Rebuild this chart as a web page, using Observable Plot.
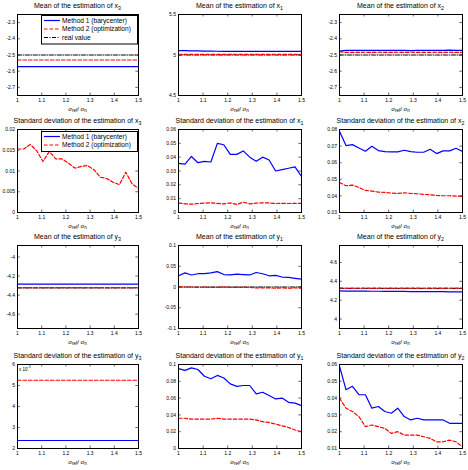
<!DOCTYPE html>
<html><head><meta charset="utf-8">
<script src="https://cdn.jsdelivr.net/npm/d3@7"></script>
<script src="https://cdn.jsdelivr.net/npm/@observablehq/plot@0.6"></script>
<style>
body{margin:0;background:#fff;}
#root{position:relative;width:468px;height:470px;overflow:hidden;font-family:"Liberation Sans",Arial,sans-serif;color:#000;}
.panel{position:absolute;}
.ttl{position:absolute;font-size:7px;white-space:nowrap;transform:translateX(-50%);line-height:1;}
.xl{position:absolute;font-size:6px;white-space:nowrap;transform:translateX(-50%);line-height:1;}
sub{font-size:0.75em;vertical-align:-0.3em;line-height:0;}
sup{font-size:0.75em;line-height:0;}
</style>
</head><body><div id="root"></div>
<script>
const xs = [1, 1.0263, 1.0526, 1.0789, 1.1053, 1.1316, 1.1579, 1.1842, 1.2105, 1.2368, 1.2632, 1.2895, 1.3158, 1.3421, 1.3684, 1.3947, 1.4211, 1.4474, 1.4737, 1.5];
const xTicks = [1, 1.1, 1.2, 1.3, 1.4, 1.5];
const seriesNames = ["Method 1 (barycenter)", "Method 2 (optimization)", "real value"];
const panelTitles = ["Mean of the estimation of ", "Standard deviation of the estimation of "];
const varNames = ["x3", "x1", "x2", "y3", "y1", "y2"];

// Mean x3
const meanX3_m1 = [-2.572,-2.572,-2.572,-2.572,-2.572,-2.572,-2.572,-2.572,-2.572,-2.572,-2.572,-2.572,-2.572,-2.572,-2.572,-2.572,-2.572,-2.572,-2.572,-2.572];
const meanX3_m2 = [-2.531,-2.531,-2.531,-2.531,-2.531,-2.531,-2.531,-2.531,-2.531,-2.531,-2.531,-2.531,-2.531,-2.531,-2.531,-2.531,-2.531,-2.531,-2.531,-2.531];
const meanX3_real = [-2.5,-2.5,-2.5,-2.5,-2.5,-2.5,-2.5,-2.5,-2.5,-2.5,-2.5,-2.5,-2.5,-2.5,-2.5,-2.5,-2.5,-2.5,-2.5,-2.5];
// Mean x1
const meanX1_m1 = [5.055,5.054,5.052,5.050,5.049,5.047,5.046,5.045,5.045,5.044,5.044,5.044,5.044,5.044,5.044,5.044,5.044,5.044,5.044,5.044];
const meanX1_m2 = [5.009,5.008,5.008,5.009,5.008,5.008,5.009,5.008,5.008,5.009,5.008,5.008,5.009,5.008,5.008,5.009,5.008,5.008,5.009,5.008];
const meanX1_real = [5,5,5,5,5,5,5,5,5,5,5,5,5,5,5,5,5,5,5,5];
// Mean x2
const meanX2_m1 = [-2.476,-2.471,-2.471,-2.472,-2.472,-2.471,-2.472,-2.472,-2.472,-2.471,-2.472,-2.473,-2.472,-2.472,-2.472,-2.471,-2.472,-2.470,-2.472,-2.471];
const meanX2_m2 = [-2.479,-2.484,-2.483,-2.484,-2.483,-2.484,-2.483,-2.484,-2.484,-2.483,-2.484,-2.483,-2.484,-2.483,-2.484,-2.483,-2.484,-2.483,-2.484,-2.483];
const meanX2_real = [-2.5,-2.5,-2.5,-2.5,-2.5,-2.5,-2.5,-2.5,-2.5,-2.5,-2.5,-2.5,-2.5,-2.5,-2.5,-2.5,-2.5,-2.5,-2.5,-2.5];
// Std x3
const stdX3_m1 = [0,0,0,0,0,0,0,0,0,0,0,0,0,0,0,0,0,0,0,0];
const stdX3_m2 = [0.0153,0.0153,0.0164,0.0149,0.0123,0.0147,0.0129,0.0129,0.0119,0.0107,0.0111,0.0113,0.0103,0.0085,0.0082,0.0073,0.0067,0.0097,0.0069,0.0058];
// Std x1
const stdX1_m1 = [0.0355,0.0350,0.0405,0.0360,0.0370,0.0365,0.0500,0.0490,0.0420,0.0420,0.0445,0.0400,0.0370,0.0400,0.0380,0.0300,0.0310,0.0320,0.0330,0.0260];
const stdX1_m2 = [0.0068,0.0063,0.0060,0.0065,0.0068,0.0070,0.0066,0.0062,0.0070,0.0058,0.0075,0.0062,0.0068,0.0070,0.0069,0.0065,0.0066,0.0065,0.0066,0.0066];
// Std x2
const stdX2_m1 = [0.0790,0.0703,0.0709,0.0689,0.0669,0.0699,0.0673,0.0667,0.0665,0.0665,0.0675,0.0667,0.0663,0.0663,0.0681,0.0655,0.0671,0.0671,0.0687,0.0667];
const stdX2_m2 = [0.0481,0.0461,0.0465,0.0451,0.0433,0.0429,0.0423,0.0421,0.0417,0.0415,0.0419,0.0415,0.0413,0.0409,0.0407,0.0403,0.0401,0.0401,0.0399,0.0397];
// Mean y3
const meanY3_m1 = [-4.285,-4.285,-4.285,-4.285,-4.285,-4.285,-4.285,-4.285,-4.285,-4.285,-4.285,-4.285,-4.285,-4.285,-4.285,-4.285,-4.285,-4.285,-4.285,-4.285];
const meanY3_m2 = [-4.322,-4.322,-4.322,-4.322,-4.322,-4.322,-4.322,-4.322,-4.322,-4.322,-4.322,-4.322,-4.322,-4.322,-4.322,-4.322,-4.322,-4.322,-4.322,-4.322];
const meanY3_real = [-4.325,-4.325,-4.325,-4.325,-4.325,-4.325,-4.325,-4.325,-4.325,-4.325,-4.325,-4.325,-4.325,-4.325,-4.325,-4.325,-4.325,-4.325,-4.325,-4.325];
// Mean y1
const meanY1_m1 = [0.027,0.034,0.029,0.032,0.032,0.034,0.037,0.030,0.029,0.031,0.030,0.029,0.035,0.032,0.027,0.028,0.024,0.023,0.021,0.019];
const meanY1_m2 = [0.001,0.000,0.000,-0.001,0.000,-0.001,-0.001,0.000,-0.001,-0.001,-0.001,-0.001,-0.002,-0.002,-0.002,-0.003,-0.002,-0.003,-0.002,-0.003];
const meanY1_real = [0,0,0,0,0,0,0,0,0,0,0,0,0,0,0,0,0,0,0,0];
// Mean y2
const meanY2_m1 = [4.298,4.297,4.297,4.296,4.296,4.295,4.295,4.294,4.294,4.293,4.293,4.292,4.292,4.291,4.291,4.290,4.290,4.289,4.289,4.288];
const meanY2_m2 = [4.330,4.327,4.329,4.327,4.329,4.327,4.329,4.327,4.329,4.327,4.329,4.327,4.329,4.327,4.329,4.327,4.329,4.327,4.329,4.328];
const meanY2_real = [4.325,4.325,4.325,4.325,4.325,4.325,4.325,4.325,4.325,4.325,4.325,4.325,4.325,4.325,4.325,4.325,4.325,4.325,4.325,4.325];
// Std y3 (x 10^-3)
const stdY3_m1 = [0.00238,0.00238,0.00238,0.00238,0.00238,0.00238,0.00238,0.00238,0.00238,0.00238,0.00238,0.00238,0.00238,0.00238,0.00238,0.00238,0.00238,0.00238,0.00238,0.00238];
const stdY3_m2 = [0.00525,0.00525,0.00525,0.00525,0.00525,0.00525,0.00525,0.00525,0.00525,0.00525,0.00525,0.00525,0.00525,0.00525,0.00525,0.00525,0.00525,0.00525,0.00525,0.00525];
// Std y1
const stdY1_m1 = [0.095,0.093,0.096,0.094,0.086,0.083,0.087,0.084,0.077,0.074,0.075,0.075,0.065,0.067,0.063,0.059,0.060,0.055,0.054,0.051];
const stdY1_m2 = [0.036,0.036,0.035,0.035,0.035,0.035,0.036,0.035,0.035,0.035,0.035,0.035,0.034,0.032,0.031,0.029,0.027,0.025,0.022,0.020];
// Std y2
const stdY2_m1 = [0.059,0.045,0.047,0.042,0.042,0.034,0.035,0.032,0.031,0.034,0.029,0.027,0.028,0.027,0.027,0.027,0.027,0.025,0.025,0.025];
const stdY2_m2 = [0.040,0.034,0.032,0.029,0.023,0.024,0.023,0.022,0.019,0.020,0.018,0.018,0.018,0.017,0.016,0.014,0.014,0.015,0.014,0.011];

// y axis domains & ticks
const yDom = [[-2.75,-2.25],[4.5,5.5],[-2.75,-2.25],[0,0.02],[0,0.06],[0.03,0.08],[-4.75,-3.88],[-0.1,0.1],[3.9,4.78],[0.002,0.006],[0,0.1],[0.01,0.06]];
const yTicks = [
  [-2.7,-2.6,-2.5,-2.4,-2.3],[4.5,5,5.5],[-2.7,-2.6,-2.5,-2.4,-2.3],
  [0,0.005,0.01,0.015,0.02],[0,0.01,0.02,0.03,0.04,0.05,0.06],[0.03,0.04,0.05,0.06,0.07,0.08],
  [-4.6,-4.4,-4.2,-4],[-0.1,-0.05,0,0.05,0.1],[4,4.2,4.4,4.6],
  [0.002,0.003,0.004,0.005,0.006],[0,0.02,0.04,0.06,0.08,0.1],[0.01,0.02,0.03,0.04,0.05,0.06]
];

const colX = [[17,138],[178,301],[339,462]];
const rowY = [[14,95],[129,212],[245,328],[364,448]];

const panels = [
  {m1:meanX3_m1, m2:meanX3_m2, real:meanX3_real},
  {m1:meanX1_m1, m2:meanX1_m2, real:meanX1_real},
  {m1:meanX2_m1, m2:meanX2_m2, real:meanX2_real},
  {m1:stdX3_m1, m2:stdX3_m2},
  {m1:stdX1_m1, m2:stdX1_m2},
  {m1:stdX2_m1, m2:stdX2_m2},
  {m1:meanY3_m1, m2:meanY3_m2, real:meanY3_real},
  {m1:meanY1_m1, m2:meanY1_m2, real:meanY1_real},
  {m1:meanY2_m1, m2:meanY2_m2, real:meanY2_real},
  {m1:stdY3_m1, m2:stdY3_m2, scale:1000},
  {m1:stdY1_m1, m2:stdY1_m2},
  {m1:stdY2_m1, m2:stdY2_m2}
];

const styles = {
  m1: {stroke:"#0000ff", strokeWidth:1.2},
  m2: {stroke:"#ff0000", strokeWidth:1.2, strokeDasharray:"3.5,2"},
  real: {stroke:"#000", strokeWidth:1, strokeDasharray:"4,1.5,1,1.5"}
};

const root = document.getElementById("root");
const ML = 30, MR = 4, MT = 3, MB = 12;

panels.forEach((p, i) => {
  const r = Math.floor(i / 3), c = i % 3;
  const [x0, x1] = colX[c], [y0, y1] = rowY[r];
  const W = x1 - x0 + ML + MR, H = y1 - y0 + MT + MB;
  const dom = yDom[i];
  const span = dom[1] - dom[0];
  const tl = span * 0.03, xl = 0.5 * 0.022;
  const fmt = p.scale ? (d => String(Math.round(d * p.scale))) : (d => String(+d.toFixed(4)));
  const marks = [
    Plot.ruleX(xTicks, {x: d => d, y1: dom[0], y2: dom[0] + tl, stroke:"#000", strokeWidth:0.6}),
    Plot.ruleX(xTicks, {x: d => d, y1: dom[1], y2: dom[1] - tl, stroke:"#000", strokeWidth:0.6}),
    Plot.ruleY(yTicks[i], {y: d => d, x1: 1, x2: 1 + xl, stroke:"#000", strokeWidth:0.6}),
    Plot.ruleY(yTicks[i], {y: d => d, x1: 1.5, x2: 1.5 - xl, stroke:"#000", strokeWidth:0.6}),
    Plot.axisX({ticks: xTicks, tickSize: 0, tickPadding: 3, tickFormat: d => String(d), label: null, fontSize: 5}),
    Plot.axisY({ticks: yTicks[i], tickSize: 0, tickPadding: 2.5, tickFormat: fmt, label: null, fontSize: 5}),
  ];
  if (p.real) marks.push(Plot.line(xs.map((x, k) => ({x, y: p.real[k]})), {x:"x", y:"y", ...styles.real}));
  marks.push(Plot.line(xs.map((x, k) => ({x, y: p.m2[k]})), {x:"x", y:"y", ...styles.m2}));
  marks.push(Plot.line(xs.map((x, k) => ({x, y: p.m1[k]})), {x:"x", y:"y", ...styles.m1}));
  marks.push(Plot.frame({stroke:"#000", strokeWidth:1}));
  const svg = Plot.plot({
    width: W, height: H, marginLeft: ML, marginRight: MR, marginTop: MT, marginBottom: MB,
    x: {domain: [1, 1.5]}, y: {domain: dom},
    style: {background: "transparent", fontFamily: '"Liberation Sans",Arial,sans-serif', fontSize: "5px", color: "#000", overflow: "visible"},
    marks
  });
  const wrap = document.createElement("div");
  wrap.className = "panel";
  wrap.style.left = (x0 - ML) + "px";
  wrap.style.top = (y0 - MT) + "px";
  wrap.appendChild(svg);
  root.appendChild(wrap);

  // title
  const t = document.createElement("div");
  t.className = "ttl";
  const vn = varNames[c + (r >= 2 ? 3 : 0)];
  t.innerHTML = panelTitles[r % 2] + vn[0] + "<sub>" + vn[1] + "</sub>";
  t.style.left = ((x0 + x1) / 2) + "px";
  t.style.top = (y0 - 12) + "px";
  root.appendChild(t);
  // x label
  const xlab = document.createElement("div");
  xlab.className = "xl";
  xlab.innerHTML = "σ<sub>ref</sub>/ σ<sub>n</sub>";
  xlab.style.left = ((x0 + x1) / 2) + "px";
  xlab.style.top = (y1 + 11) + "px";
  root.appendChild(xlab);
  if (p.scale) {
    const e = document.createElement("div");
    e.style.cssText = "position:absolute;font-size:4.5px;line-height:1;white-space:nowrap;";
    e.innerHTML = "x 10<sup>-3</sup>";
    e.style.left = (x0 + 2) + "px";
    e.style.top = (y0 + 2.5) + "px";
    root.appendChild(e);
  }
});

// legends
function legend(left, top, width, n) {
  const h = 4 + n * 8.5;
  const ns = "http://www.w3.org/2000/svg";
  const svg = document.createElementNS(ns, "svg");
  svg.setAttribute("width", width); svg.setAttribute("height", h);
  svg.style.cssText = `position:absolute;left:${left}px;top:${top}px;background:#fff;`;
  const rect = document.createElementNS(ns, "rect");
  rect.setAttribute("x", 0.5); rect.setAttribute("y", 0.5); rect.setAttribute("width", width - 1); rect.setAttribute("height", h - 1);
  rect.setAttribute("fill", "#fff"); rect.setAttribute("stroke", "#000"); rect.setAttribute("stroke-width", 1);
  svg.appendChild(rect);
  const keys = ["m1", "m2", "real"];
  for (let k = 0; k < n; k++) {
    const y = 5.5 + k * 8.5;
    const ln = document.createElementNS(ns, "line");
    ln.setAttribute("x1", 3); ln.setAttribute("x2", 19); ln.setAttribute("y1", y); ln.setAttribute("y2", y);
    const s = styles[keys[k]];
    ln.setAttribute("stroke", s.stroke); ln.setAttribute("stroke-width", s.strokeWidth);
    if (s.strokeDasharray) ln.setAttribute("stroke-dasharray", s.strokeDasharray);
    svg.appendChild(ln);
    const tx = document.createElementNS(ns, "text");
    tx.setAttribute("x", 21); tx.setAttribute("y", y + 2.2);
    tx.setAttribute("font-size", "6.6"); tx.setAttribute("font-family", '"Liberation Sans",Arial,sans-serif');
    tx.textContent = seriesNames[k];
    svg.appendChild(tx);
  }
  root.appendChild(svg);
}
legend(41, 15, 97, 3);
legend(41, 131, 97, 2);
</script>
</body></html>
